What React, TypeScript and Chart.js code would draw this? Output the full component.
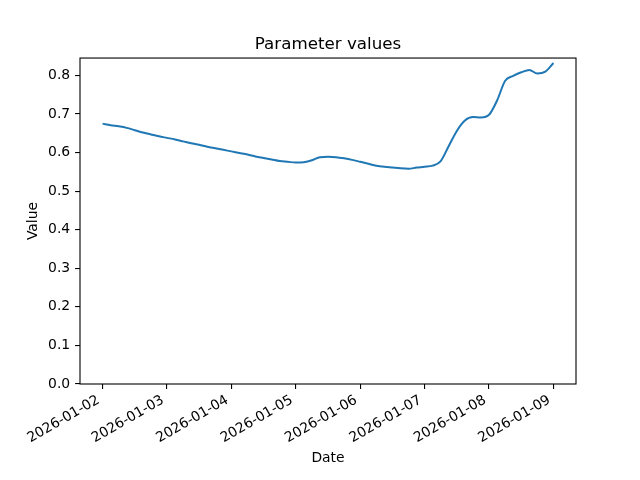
import { useEffect, useRef } from "react"
import { Chart, registerables } from "chart.js"

Chart.register(...registerables)

// tick labels, one per day
const DATE_LABELS = [
  "2026-01-02", "2026-01-03", "2026-01-04", "2026-01-05",
  "2026-01-06", "2026-01-07", "2026-01-08", "2026-01-09",
]

// one sample every 3 hours, starting 2026-01-02 00:00
const STEP_HOURS = 3
const VALUES = [
  0.675, 0.671, 0.668, 0.664, 0.658, 0.652, 0.647, 0.642,
  0.638, 0.634, 0.629, 0.624, 0.620, 0.615, 0.611, 0.607,
  0.603, 0.599, 0.595, 0.590, 0.586, 0.582, 0.578, 0.576,
  0.574, 0.575, 0.580, 0.588, 0.589, 0.588, 0.585, 0.581,
  0.576, 0.571, 0.566, 0.563, 0.561, 0.559, 0.558, 0.561,
  0.563, 0.566, 0.578, 0.617, 0.656, 0.683, 0.692, 0.691,
  0.698, 0.735, 0.786, 0.799, 0.808, 0.814, 0.805, 0.810,
  0.832,
]

const Y_TICKS = [0, 0.1, 0.2, 0.3, 0.4, 0.5, 0.6, 0.7, 0.8]

const FONT = "'DejaVu Sans', sans-serif"

const frame = {
  id: "frame",
  afterDraw(chart: Chart) {
    const { ctx, chartArea: a } = chart
    ctx.save()
    ctx.strokeStyle = "#000"
    ctx.lineWidth = 1.1
    ctx.strokeRect(a.left, a.top, a.right - a.left, a.bottom - a.top)
    ctx.restore()
  },
}

export default function App() {
  const canvasRef = useRef<HTMLCanvasElement>(null)
  const chartRef = useRef<Chart | null>(null)

  useEffect(() => {
    document.body.style.margin = "0"
    if (!canvasRef.current) return
    chartRef.current?.destroy()

    chartRef.current = new Chart(canvasRef.current, {
      type: "line",
      data: {
        datasets: [{
          data: VALUES.map((v, i) => ({ x: (i * STEP_HOURS) / 24, y: v })),
          borderColor: "#1f77b4",
          borderWidth: 2,
          pointRadius: 0,
          cubicInterpolationMode: "monotone",
          fill: false,
        }],
      },
      options: {
        responsive: false,
        animation: false,
        devicePixelRatio: 1,
        layout: { padding: { top: 0, left: 0, right: 64, bottom: 0 } },
        plugins: {
          legend: { display: false },
          tooltip: { enabled: false },
          title: {
            display: true,
            fullSize: false,
            text: "Parameter values",
            color: "#000",
            font: { family: FONT, size: 16.7, weight: "normal" },
            padding: { top: 34.5, bottom: 3.5 },
          },
        },
        scales: {
          x: {
            type: "linear",
            min: -0.35,
            max: 7.35,
            afterBuildTicks: (s: any) => { s.ticks = DATE_LABELS.map((_, i) => ({ value: i })) },
            afterFit: (s: any) => { s.height = 96 },
            border: { display: false },
            grid: { drawOnChartArea: false, drawTicks: true, tickLength: 4.9, color: "#000", lineWidth: 1.1 },
            ticks: {
              color: "#000",
              font: { family: FONT, size: 13.9 },
              minRotation: 30,
              maxRotation: 30,
              padding: 3,
              labelOffset: -4,
              autoSkip: false,
              callback: (_v: any, i: number) => DATE_LABELS[i],
            },
            title: {
              display: true,
              text: "Date",
              color: "#000",
              font: { family: FONT, size: 13.9 },
              padding: { top: 0, bottom: 13.6 },
            },
          },
          y: {
            type: "linear",
            min: 0,
            max: 0.845,
            afterBuildTicks: (s: any) => { s.ticks = Y_TICKS.map(v => ({ value: v })) },
            afterFit: (s: any) => { s.width = 80 },
            border: { display: false },
            grid: { drawOnChartArea: false, drawTicks: true, tickLength: 4.9, color: "#000", lineWidth: 1.1 },
            ticks: {
              color: "#000",
              font: { family: FONT, size: 13.9 },
              padding: 4.9,
              callback: (v: any) => Number(v).toFixed(1),
            },
            title: {
              display: true,
              text: "Value",
              color: "#000",
              font: { family: FONT, size: 13.9 },
              padding: { top: 25, bottom: 0 },
            },
          },
        },
      },
      plugins: [frame],
    })

    return () => { chartRef.current?.destroy() }
  }, [])

  return (
    <div style={{ width: 640, height: 480, background: "#fff" }}>
      <canvas ref={canvasRef} width={640} height={480} />
    </div>
  )
}
